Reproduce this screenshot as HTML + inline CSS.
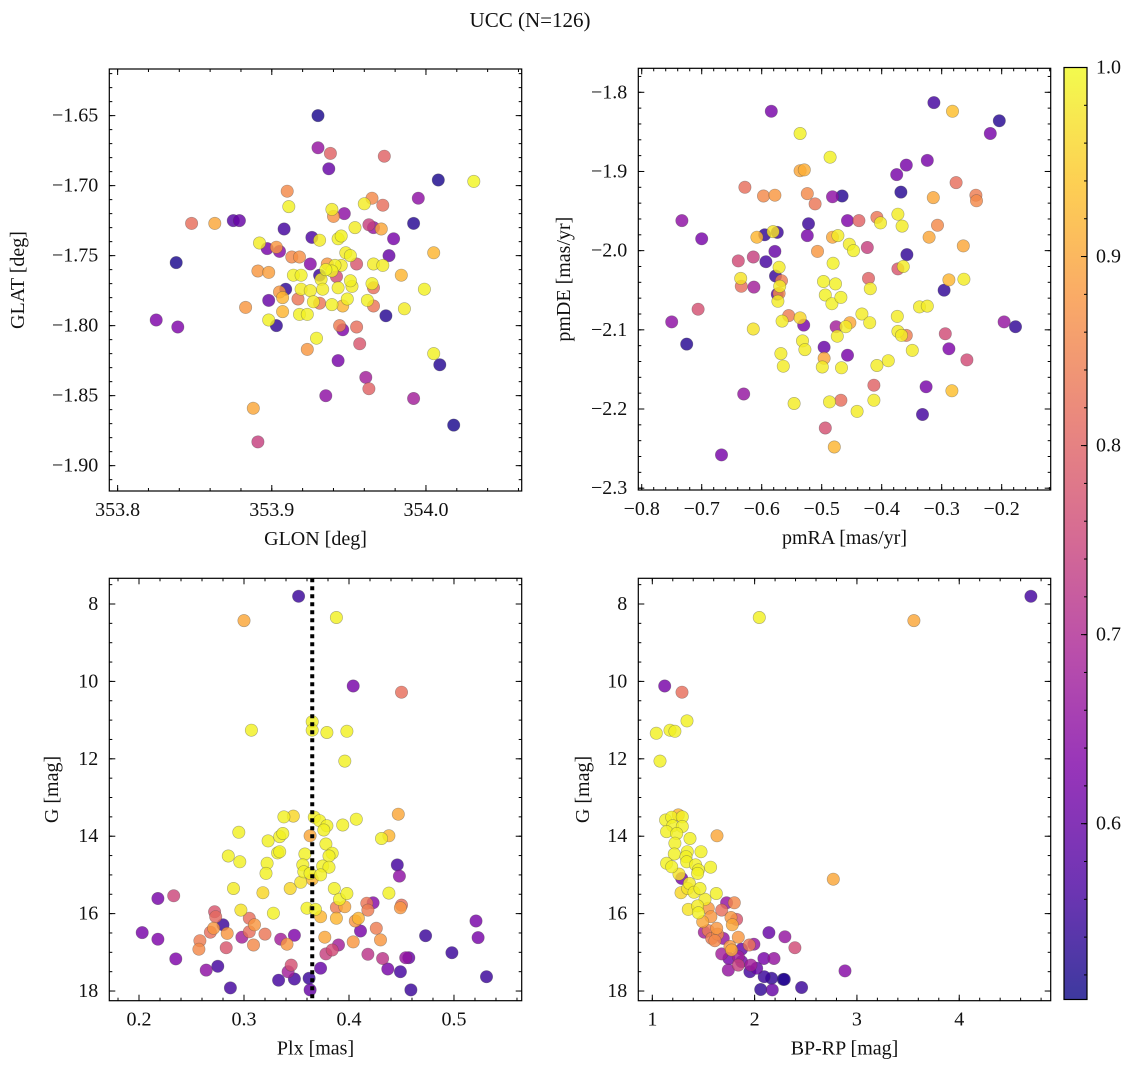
<!DOCTYPE html>
<html><head><meta charset="utf-8"><title>UCC (N=126)</title>
<style>
html,body{margin:0;padding:0;background:#fff;}
svg{display:block;font-family:"DejaVu Serif","Liberation Serif",serif;}
text{fill:#111;}
</style></head>
<body>
<svg id="fig" width="1136" height="1067" viewBox="0 0 1136 1067" xmlns="http://www.w3.org/2000/svg">
<defs>
<linearGradient id="cbgrad" x1="0" y1="1" x2="0" y2="0">
<stop offset="0" stop-color="#0d0887"/><stop offset="0.125" stop-color="#4c02a1"/><stop offset="0.25" stop-color="#7e03a8"/><stop offset="0.375" stop-color="#a92395"/><stop offset="0.5" stop-color="#cc4778"/><stop offset="0.625" stop-color="#e56b5d"/><stop offset="0.75" stop-color="#f89441"/><stop offset="0.875" stop-color="#fdc328"/><stop offset="1" stop-color="#f0f921"/>
</linearGradient>
</defs>
<text x="530" y="27" text-anchor="middle" font-size="21" font-family="Liberation Serif, serif">UCC (N=126)</text>
</svg>
<script>
// ---- Panel 1: GLON / GLAT ----
const p1Glon=[353.930,353.930,353.938,353.937,353.973,354.008,354.031,353.910,353.995,353.911,353.939,353.940,353.947,353.960,353.965,353.972,353.848,353.863,353.875,353.879,353.908,353.992,353.954,353.963,353.966,353.971,353.979,353.926,353.931,353.943,353.945,353.892,353.897,353.903,353.905,353.948,353.951,353.976,354.005,353.838,353.913,353.918,353.925,353.936,353.941,353.945,353.955,353.966,353.972,353.891,353.898,353.914,353.919,353.931,353.939,353.935,353.942,353.984,353.932,353.951,353.965,353.966,353.909,353.905,353.919,353.925,353.933,353.943,353.952,353.999,353.898,353.907,353.917,353.927,353.931,353.939,353.946,353.949,353.962,353.966,353.986,353.883,353.907,353.918,353.923,353.974,353.898,353.903,353.825,353.839,353.944,353.946,353.955,353.929,353.923,353.957,354.005,354.009,353.943,353.961,353.963,353.935,353.992,353.888,354.018,353.891];
const p1Glat=[-1.650,-1.673,-1.677,-1.688,-1.679,-1.696,-1.697,-1.704,-1.709,-1.715,-1.717,-1.722,-1.720,-1.713,-1.709,-1.714,-1.727,-1.727,-1.725,-1.725,-1.731,-1.727,-1.730,-1.728,-1.730,-1.731,-1.738,-1.737,-1.739,-1.738,-1.736,-1.741,-1.745,-1.744,-1.747,-1.748,-1.750,-1.750,-1.748,-1.755,-1.751,-1.751,-1.756,-1.756,-1.757,-1.757,-1.756,-1.756,-1.757,-1.761,-1.762,-1.764,-1.764,-1.764,-1.761,-1.760,-1.765,-1.764,-1.767,-1.768,-1.770,-1.773,-1.774,-1.776,-1.774,-1.775,-1.774,-1.773,-1.772,-1.774,-1.782,-1.780,-1.781,-1.783,-1.784,-1.785,-1.786,-1.781,-1.782,-1.786,-1.788,-1.787,-1.790,-1.792,-1.792,-1.793,-1.796,-1.800,-1.796,-1.801,-1.800,-1.803,-1.801,-1.809,-1.817,-1.813,-1.820,-1.828,-1.825,-1.837,-1.845,-1.850,-1.852,-1.859,-1.871,-1.883];
const p1Prob=[.52,.66,.8,.6,.8,.52,.995,.86,.65,.99,.985,.87,.65,.985,.86,.82,.82,.9,.58,.6,.56,.53,.985,.74,.66,.9,.62,.57,.985,.99,.99,.985,.62,.88,.64,.985,.99,.6,.92,.52,.86,.87,.64,.88,.99,.985,.78,.985,.985,.88,.89,.99,.99,.55,.99,.995,.76,.92,.985,.99,.99,.82,.54,.88,.985,.985,.985,.985,.985,.99,.6,.92,.83,.985,.83,.99,.92,.99,.99,.83,.985,.88,.92,.99,.99,.53,.99,.54,.63,.63,.84,.63,.82,.99,.88,.78,.99,.53,.62,.68,.8,.65,.68,.9,.52,.74];
const p1XTicks=[353.8,353.9,354.0];
const p1XTickLabels=["353.8","353.9","354.0"];
const p1YTicks=[-1.65,-1.70,-1.75,-1.80,-1.85,-1.90];
const p1YTickLabels=["\u22121.65","\u22121.70","\u22121.75","\u22121.80","\u22121.85","\u22121.90"];

// ---- Panel 2: pmRA / pmDE ----
const p2PmRA=[-0.584,-0.536,-0.486,-0.313,-0.282,-0.204,-0.219,-0.536,-0.529,-0.375,-0.359,-0.324,-0.368,-0.314,-0.276,-0.243,-0.242,-0.628,-0.597,-0.578,-0.524,-0.511,-0.482,-0.466,-0.733,-0.700,-0.522,-0.524,-0.457,-0.438,-0.408,-0.402,-0.373,-0.366,-0.307,-0.595,-0.581,-0.574,-0.608,-0.482,-0.473,-0.454,-0.447,-0.424,-0.321,-0.264,-0.578,-0.593,-0.639,-0.614,-0.507,-0.481,-0.358,-0.373,-0.364,-0.571,-0.577,-0.567,-0.635,-0.634,-0.613,-0.570,-0.571,-0.574,-0.573,-0.497,-0.477,-0.494,-0.483,-0.468,-0.422,-0.419,-0.296,-0.288,-0.263,-0.337,-0.324,-0.706,-0.750,-0.725,-0.614,-0.555,-0.566,-0.536,-0.530,-0.532,-0.528,-0.568,-0.564,-0.496,-0.496,-0.499,-0.476,-0.474,-0.460,-0.453,-0.457,-0.467,-0.433,-0.420,-0.374,-0.373,-0.367,-0.359,-0.349,-0.389,-0.408,-0.294,-0.288,-0.258,-0.196,-0.177,-0.630,-0.546,-0.487,-0.468,-0.441,-0.413,-0.413,-0.326,-0.283,-0.332,-0.494,-0.479,-0.667];
const p2PmDE=[-1.824,-1.852,-1.882,-1.813,-1.824,-1.836,-1.852,-1.899,-1.898,-1.904,-1.892,-1.886,-1.926,-1.933,-1.914,-1.930,-1.937,-1.920,-1.931,-1.930,-1.928,-1.941,-1.932,-1.931,-1.962,-1.985,-1.966,-1.981,-1.962,-1.962,-1.958,-1.965,-1.954,-1.969,-1.968,-1.980,-1.976,-1.977,-1.983,-1.983,-1.981,-1.992,-2.000,-1.996,-1.983,-1.994,-2.001,-2.014,-2.013,-2.008,-2.001,-2.016,-2.005,-2.023,-2.020,-2.021,-2.032,-2.038,-2.035,-2.045,-2.046,-2.045,-2.054,-2.055,-2.064,-2.039,-2.042,-2.056,-2.067,-2.059,-2.035,-2.048,-2.050,-2.037,-2.036,-2.071,-2.070,-2.074,-2.090,-2.118,-2.099,-2.082,-2.089,-2.085,-2.094,-2.114,-2.125,-2.130,-2.146,-2.122,-2.136,-2.147,-2.096,-2.108,-2.096,-2.091,-2.132,-2.148,-2.080,-2.091,-2.083,-2.102,-2.107,-2.107,-2.126,-2.139,-2.145,-2.105,-2.124,-2.138,-2.090,-2.096,-2.181,-2.193,-2.191,-2.189,-2.203,-2.170,-2.189,-2.172,-2.177,-2.207,-2.224,-2.248,-2.258];
const p2Prob=[.62,.99,.99,.56,.93,.53,.62,.9,.91,.62,.62,.62,.53,.9,.82,.84,.86,.82,.86,.88,.86,.83,.65,.53,.65,.62,.55,.62,.63,.8,.83,.985,.985,.985,.86,.54,.975,.55,.92,.9,.985,.985,.99,.74,.9,.9,.6,.56,.76,.74,.88,.99,.54,.78,.985,.985,.55,.84,.975,.82,.68,.985,.86,.58,.985,.99,.99,.99,.99,.99,.8,.985,.54,.92,.985,.985,.985,.77,.65,.53,.975,.84,.985,.96,.62,.985,.985,.985,.985,.6,.9,.985,.68,.985,.985,.9,.62,.985,.985,.985,.985,.985,.985,.84,.985,.985,.985,.76,.63,.76,.66,.54,.66,.985,.985,.82,.985,.8,.985,.62,.93,.56,.77,.92,.62];
const p2XTicks=[-0.8,-0.7,-0.6,-0.5,-0.4,-0.3,-0.2];
const p2XTickLabels=["\u22120.8","\u22120.7","\u22120.6","\u22120.5","\u22120.4","\u22120.3","\u22120.2"];
const p2YTicks=[-1.8,-1.9,-2.0,-2.1,-2.2,-2.3];
const p2YTickLabels=["\u22121.8","\u22121.9","\u22122.0","\u22122.1","\u22122.2","\u22122.3"];

// ---- Panel 3: Plx / G ----
const p3Plx=[.352,.300,.388,.404,.450,.307,.365,.365,.379,.398,.396,.338,.347,.367,.372,.379,.376,.394,.407,.447,.295,.323,.334,.337,.363,.378,.431,.438,.285,.296,.322,.321,.332,.334,.358,.384,.381,.356,.357,.375,.381,.363,.373,.365,.354,.446,.448,.290,.344,.318,.386,.391,.398,.438,.218,.233,.297,.328,.360,.368,.373,.388,.396,.417,.423,.418,.450,.449,.272,.273,.305,.310,.280,.271,.268,.284,.305,.298,.320,.203,.218,.258,.257,.283,.309,.335,.348,.341,.377,.388,.406,.409,.411,.404,.426,.430,.390,.384,.378,.418,.432,.454,.457,.235,.473,.498,.521,.523,.531,.437,.449,.459,.264,.275,.287,.333,.348,.342,.345,.362,.363,.373];
const p3G=[7.80,8.43,8.35,10.12,10.28,11.26,11.04,11.26,11.32,11.29,12.06,13.50,13.48,13.51,13.60,13.73,13.84,13.71,13.56,13.43,13.90,14.12,14.01,13.93,13.99,14.20,14.06,13.99,14.51,14.66,14.70,14.96,14.43,14.40,14.46,14.44,14.51,14.74,14.92,14.77,14.80,14.96,15.00,15.11,15.19,14.74,15.03,15.35,15.35,15.46,15.35,15.63,15.48,15.47,15.61,15.54,15.91,15.99,15.86,15.89,16.08,15.84,15.82,15.73,15.72,15.91,15.78,15.85,15.95,16.08,16.12,16.29,16.29,16.38,16.48,16.51,16.47,16.61,16.53,16.49,16.66,16.70,16.92,16.88,16.81,16.66,16.56,16.79,16.61,16.12,16.19,16.12,16.45,16.73,16.38,16.68,16.81,16.94,17.04,17.05,17.16,17.14,17.14,17.17,16.57,17.01,16.19,16.62,17.63,17.43,17.50,17.97,17.46,17.36,17.92,17.72,17.69,17.50,17.33,17.67,17.97,17.41];
const p3Prob=[.55,.9,.99,.62,.82,.99,.99,.99,.99,.99,.99,.99,.96,.99,.99,.99,.99,.99,.99,.9,.99,.99,.99,.99,.9,.99,.99,.92,.99,.99,.99,.99,.99,.99,.99,.99,.99,.99,.99,.99,.99,.99,.99,.92,.975,.56,.65,.985,.96,.96,.99,.99,.99,.99,.62,.75,.975,.99,.99,.99,.92,.84,.9,.83,.64,.84,.82,.88,.78,.81,.82,.88,.55,.88,.82,.88,.82,.68,.83,.62,.63,.84,.86,.78,.86,.68,.63,.88,.9,.92,.88,.92,.62,.88,.84,.88,.68,.76,.74,.72,.72,.66,.6,.63,.55,.55,.62,.62,.55,.62,.56,.55,.65,.56,.56,.56,.56,.68,.77,.55,.6,.6];
const p3XTicks=[0.2,0.3,0.4,0.5];
const p3XTickLabels=["0.2","0.3","0.4","0.5"];
const p3YTicks=[8,10,12,14,16,18];
const p3YTickLabels=["8","10","12","14","16","18"];
const p3PlxMedian=[0.365];

// ---- Panel 4: BP-RP / G ----
const p4BpRp=[4.700,2.046,3.557,1.121,1.290,1.039,1.173,1.221,1.339,1.075,1.254,1.130,1.189,1.293,1.199,1.293,1.140,1.238,1.368,1.632,1.221,1.342,1.476,1.215,1.329,1.140,1.189,1.336,1.423,1.570,1.450,1.443,1.261,1.287,1.362,1.345,1.466,1.280,1.407,1.625,1.515,1.352,1.443,1.450,1.547,1.678,1.726,1.801,1.573,1.492,1.769,1.782,1.824,1.508,1.547,1.629,1.638,1.580,1.694,1.840,1.612,1.759,1.775,1.873,1.948,1.993,2.140,2.296,2.394,1.678,1.749,1.840,1.873,1.743,1.840,1.964,1.954,2.020,2.091,2.189,2.094,2.166,2.280,2.290,2.059,2.173,2.459,2.769,2.883];
const p4G=[7.80,8.35,8.43,10.12,10.28,11.34,11.26,11.29,11.02,12.06,13.45,13.58,13.51,13.50,13.73,13.75,13.88,13.93,14.06,13.99,14.18,14.40,14.40,14.46,14.53,14.70,14.79,14.66,14.74,14.80,14.87,14.96,14.98,15.09,15.22,15.35,15.35,15.46,15.45,15.48,15.63,15.89,15.80,15.98,15.86,15.91,15.72,15.72,16.08,16.21,16.10,16.29,16.15,16.48,16.44,16.38,16.53,16.64,16.64,16.61,16.70,16.85,16.94,16.92,16.81,16.79,16.49,16.60,16.88,17.04,17.16,17.11,17.24,17.46,17.33,17.33,17.50,17.41,17.16,17.16,17.63,17.67,17.70,17.70,17.96,17.97,17.91,15.11,17.48];
const p4Prob=[.56,.99,.9,.62,.82,.99,.99,.99,.99,.99,.92,.99,.99,.99,.99,.99,.99,.99,.99,.9,.99,.99,.99,.99,.99,.99,.99,.99,.99,.99,.99,.99,.975,.62,.985,.975,.99,.96,.985,.99,.985,.975,.985,.99,.88,.82,.66,.86,.88,.9,.88,.9,.78,.68,.84,.88,.86,.84,.66,.88,.86,.88,.9,.6,.83,.66,.6,.66,.76,.68,.62,.68,.62,.66,.74,.68,.56,.6,.62,.66,.55,.54,.52,.53,.54,.6,.55,.9,.64];
const p4XTicks=[1,2,3,4];
const p4XTickLabels=["1","2","3","4"];
const p4YTicks=[8,10,12,14,16,18];
const p4YTickLabels=["8","10","12","14","16","18"];

// ---- Colorbar ----
const cbTicks=[0.6,0.7,0.8,0.9,1.0];
const cbTickLabels=["0.6","0.7","0.8","0.9","1.0"];
const cbRange=[0.507,1.0];

const NS="http://www.w3.org/2000/svg";
const svg=document.getElementById('fig');
const FS=20, FF="Liberation Serif, serif";
function mk(tag,attrs,parent){const e=document.createElementNS(NS,tag);for(const k in attrs)e.setAttribute(k,attrs[k]);(parent||svg).appendChild(e);return e;}

const plasma=[[13,8,135],[76,2,161],[126,3,168],[169,35,149],[204,71,120],[229,107,93],[248,148,65],[253,195,40],[240,249,33]];
function cmap(p){let t=(p-cbRange[0])/(cbRange[1]-cbRange[0]);t=Math.max(0,Math.min(1,t));const f=t*8;const i=Math.min(7,Math.floor(f));const r=f-i;const a=plasma[i],b=plasma[i+1];return 'rgb('+[0,1,2].map(k=>Math.round(a[k]+(b[k]-a[k])*r)).join(',')+')';}
function lin(d0,d1,r0,r1){return v=>r0+(v-d0)/(d1-d0)*(r1-r0);}
function minorTicks(lo,hi,step){const out=[];const s=Math.ceil(lo/step-1e-9);for(let k=s;k*step<=hi+1e-9;k++)out.push(+(k*step).toFixed(6));return out;}

function panel(o){
  const g=mk('g',{});
  
  
  const sx=lin(o.xd[0],o.xd[1],o.L,o.R), sy=lin(o.yd[0],o.yd[1],o.B,o.T);
  const pg=mk('g',{},g);
  
  
  const clipId=o.name+'-clip';
  const cp=mk('clipPath',{id:clipId},g);mk('rect',{x:o.L,y:o.T,width:o.R-o.L,height:o.B-o.T},cp);
  pg.setAttribute('clip-path','url(#'+clipId+')');
  const idx=o.xs.map((_,i)=>i).sort((a,b)=>o.ps[a]-o.ps[b]);
  idx.forEach(i=>{
    const c=mk('circle',{cx:sx(o.xs[i]).toFixed(1),cy:sy(o.ys[i]).toFixed(1),r:6.2,fill:cmap(o.ps[i]),'fill-opacity':0.82,stroke:'rgba(70,70,70,0.45)','stroke-width':0.6},pg);
    
    
  });
  if(o.vline){o.vline.forEach(v=>{
    const l=mk('line',{x1:sx(v),x2:sx(v),y1:o.T,y2:o.B,stroke:'#000','stroke-width':4,'stroke-dasharray':'4 4'},g);
    
    
  });}
  const fr=mk('rect',{x:o.L,y:o.T,width:o.R-o.L,height:o.B-o.T,fill:'none',stroke:'#000','stroke-width':1.2},g);
  
  
  const tg=mk('g',{stroke:'#000','stroke-width':1},g);
  const xmin=Math.min(o.xd[0],o.xd[1]),xmax=Math.max(o.xd[0],o.xd[1]);
  const ymin=Math.min(o.yd[0],o.yd[1]),ymax=Math.max(o.yd[0],o.yd[1]);
  minorTicks(xmin,xmax,o.xminor).forEach(v=>{const x=sx(v);mk('line',{x1:x,x2:x,y1:o.B,y2:o.B-3},tg);mk('line',{x1:x,x2:x,y1:o.T,y2:o.T+3},tg);});
  minorTicks(ymin,ymax,o.yminor).forEach(v=>{const y=sy(v);mk('line',{x1:o.L,x2:o.L+3,y1:y,y2:y},tg);mk('line',{x1:o.R,x2:o.R-3,y1:y,y2:y},tg);});
  o.xt.forEach((v,i)=>{const x=sx(v);mk('line',{x1:x,x2:x,y1:o.B,y2:o.B-6},tg);mk('line',{x1:x,x2:x,y1:o.T,y2:o.T+6},tg);
    const t=mk('text',{x:x,y:o.B+25,'text-anchor':'middle','font-size':FS,'font-family':FF},g);t.textContent=o.xtl[i];
    
    });
  o.yt.forEach((v,i)=>{const y=sy(v);if(y<o.T-1||y>o.B+1)return;mk('line',{x1:o.L,x2:o.L+6,y1:y,y2:y},tg);mk('line',{x1:o.R,x2:o.R-6,y1:y,y2:y},tg);
    const t=mk('text',{x:o.L-11,y:y+6,'text-anchor':'end','font-size':FS,'font-family':FF},g);t.textContent=o.ytl[i];
    
    });
  const xl=mk('text',{x:(o.L+o.R)/2,y:o.B+54,'text-anchor':'middle','font-size':FS,'font-family':FF},g);xl.textContent=o.xlabel;
  
  
  const yl=mk('text',{x:0,y:0,'text-anchor':'middle','font-size':FS,'font-family':FF,transform:'translate('+o.ylx+','+((o.T+o.B)/2)+') rotate(-90)'},g);yl.textContent=o.ylabel;
  
  
}

panel({name:'glon-glat-panel',L:109.3,R:521.7,T:69,B:491,xd:[353.7946,354.0621],yd:[-1.9181,-1.6167],xs:p1Glon,ys:p1Glat,ps:p1Prob,xt:p1XTicks,xtl:p1XTickLabels,yt:p1YTicks,ytl:p1YTickLabels,xminor:0.02,yminor:0.01,xlabel:'GLON [deg]',ylabel:'GLAT [deg]',ylx:24});
panel({name:'pm-panel',L:638.3,R:1050.7,T:68.3,B:490,xd:[-0.8057,-0.1183],yd:[-2.3023,-1.7697],xs:p2PmRA,ys:p2PmDE,ps:p2Prob,xt:p2XTicks,xtl:p2XTickLabels,yt:p2YTicks,ytl:p2YTickLabels,xminor:0.02,yminor:0.02,xlabel:'pmRA [mas/yr]',ylabel:'pmDE [mas/yr]',ylx:570});
panel({name:'plx-g-panel',L:109.3,R:521.7,T:578.3,B:1000.7,xd:[0.1717,0.5645],yd:[18.25,7.336],xs:p3Plx,ys:p3G,ps:p3Prob,xt:p3XTicks,xtl:p3XTickLabels,yt:p3YTicks,ytl:p3YTickLabels,xminor:0.02,yminor:0.5,xlabel:'Plx [mas]',ylabel:'G [mag]',ylx:58,vline:p3PlxMedian});
panel({name:'cmd-panel',L:638.3,R:1050.7,T:578.3,B:1000.7,xd:[0.863,4.894],yd:[18.25,7.336],xs:p4BpRp,ys:p4G,ps:p4Prob,xt:p4XTicks,xtl:p4XTickLabels,yt:p4YTicks,ytl:p4YTickLabels,xminor:0.2,yminor:0.5,xlabel:'BP-RP [mag]',ylabel:'G [mag]',ylx:589});

(function(){
  const L=1064,R=1087,T=67.5,B=999.5;
  const g=mk('g',{});
  
  
  const r=mk('rect',{x:L,y:T,width:R-L,height:B-T,fill:'url(#cbgrad)','fill-opacity':0.8},g);
  
  
  mk('rect',{x:L,y:T,width:R-L,height:B-T,fill:'none',stroke:'#000','stroke-width':1.2},g);
  const sy=lin(cbRange[0],cbRange[1],B,T);
  minorTicks(cbRange[0],cbRange[1],0.02).forEach(v=>{const y=sy(v);mk('line',{x1:R,x2:R-3,y1:y,y2:y,stroke:'#000'},g);});
  cbTicks.forEach((v,i)=>{const y=sy(v);mk('line',{x1:R,x2:R-6,y1:y,y2:y,stroke:'#000'},g);
    const t=mk('text',{x:R+9,y:y+6,'font-size':FS,'font-family':FF},g);t.textContent=cbTickLabels[i];
    
    });
})();
</script>
</body></html>
